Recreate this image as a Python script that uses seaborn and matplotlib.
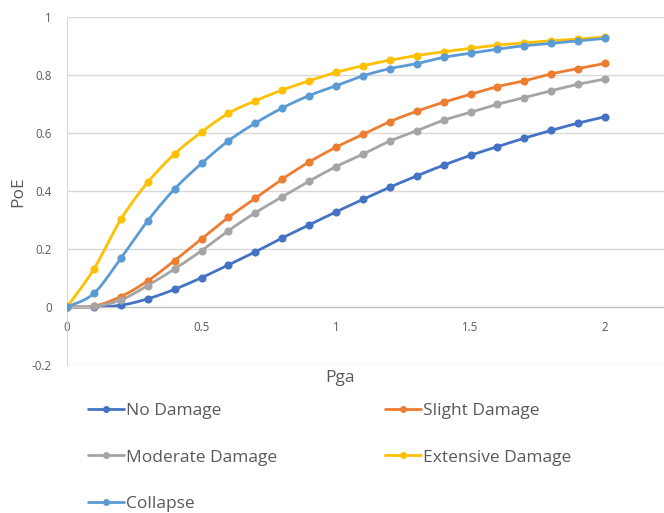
import numpy as np
import pandas as pd
import matplotlib
matplotlib.use("Agg")
import matplotlib.pyplot as plt
import seaborn as sns
from matplotlib.lines import Line2D

pga = [0.0, 0.1, 0.2, 0.3, 0.4, 0.5, 0.6, 0.7, 0.8, 0.9, 1.0,
       1.1, 1.2, 1.3, 1.4, 1.5, 1.6, 1.7, 1.8, 1.9, 2.0]
no_damage = [0.0, 0.0, 0.006, 0.028, 0.061, 0.101, 0.145, 0.190, 0.238, 0.283, 0.328,
             0.371, 0.413, 0.452, 0.489, 0.523, 0.553, 0.582, 0.609, 0.634, 0.656]
slight_damage = [0.0, 0.003, 0.036, 0.090, 0.160, 0.235, 0.309, 0.375, 0.441, 0.500, 0.551,
                 0.595, 0.639, 0.675, 0.706, 0.733, 0.760, 0.780, 0.804, 0.822, 0.840]
moderate_damage = [0.0, 0.002, 0.024, 0.074, 0.131, 0.194, 0.263, 0.325, 0.380, 0.434, 0.484,
                   0.527, 0.572, 0.608, 0.644, 0.671, 0.699, 0.722, 0.746, 0.768, 0.786]
extensive_damage = [0.0, 0.131, 0.302, 0.430, 0.528, 0.603, 0.668, 0.711, 0.748, 0.780, 0.809,
                    0.832, 0.851, 0.867, 0.880, 0.892, 0.903, 0.911, 0.918, 0.924, 0.931]
collapse = [0.0, 0.047, 0.168, 0.297, 0.407, 0.495, 0.573, 0.634, 0.686, 0.729, 0.763,
            0.797, 0.822, 0.839, 0.861, 0.875, 0.889, 0.901, 0.909, 0.918, 0.926]

series_names = ["No Damage", "Slight Damage", "Moderate Damage", "Extensive Damage", "Collapse"]
series_values = [no_damage, slight_damage, moderate_damage, extensive_damage, collapse]
colors = ["#4472C4", "#ED7D31", "#A5A5A5", "#FFC000", "#5B9BD5"]
x_ticks = [0, 0.5, 1, 1.5, 2]
y_ticks = [-0.2, 0, 0.2, 0.4, 0.6, 0.8, 1]


def smooth(x, y, n=20):
    """Catmull-Rom (Excel-style) smoothing through the data points."""
    x = np.asarray(x, float)
    y = np.asarray(y, float)
    pts = np.column_stack([x, y])
    ext = np.vstack([pts[0], pts, pts[-1]])
    out = []
    for i in range(len(pts) - 1):
        p0, p1, p2, p3 = ext[i], ext[i + 1], ext[i + 2], ext[i + 3]
        c1 = p1 + (p2 - p0) / 6.0
        c2 = p2 - (p3 - p1) / 6.0
        t = np.linspace(0, 1, n, endpoint=False)[:, None]
        seg = ((1 - t) ** 3) * p1 + 3 * ((1 - t) ** 2) * t * c1 + 3 * (1 - t) * t ** 2 * c2 + t ** 3 * p2
        out.append(seg)
    out.append(pts[-1][None, :])
    out = np.vstack(out)
    return out[:, 0], out[:, 1]


sns.set_style("white")
plt.rcParams["font.family"] = ["Open Sans", "DejaVu Sans"]

fig = plt.figure(figsize=(6.64, 5.13), dpi=100)
ax = fig.add_axes([67 / 664, 1 - 365 / 513, 1 - 67 / 664, (365 - 17) / 513])

for name, vals, col in zip(series_names, series_values, colors):
    sx, sy = smooth(pga, vals)
    curve = pd.DataFrame({"Pga": sx, "PoE": sy})
    sns.lineplot(data=curve, x="Pga", y="PoE", ax=ax, color=col, lw=2.0,
                 sort=False, estimator=None, legend=False)
    pts = pd.DataFrame({"Pga": pga, "PoE": vals})
    sns.scatterplot(data=pts, x="Pga", y="PoE", ax=ax, color=col, s=34,
                    linewidth=0, legend=False, zorder=3)

ax.set_xlim(0, (664 - 67) / 269)
ax.set_ylim(-0.2, 1.0)
ax.set_xticks(x_ticks)
ax.set_xticklabels([f"{v:g}" for v in x_ticks])
ax.set_yticks(y_ticks)
ax.set_yticklabels([f"{v:g}" for v in y_ticks])
ax.grid(axis="y", color="#D9D9D9", lw=1)
ax.grid(axis="x", visible=False)
ax.set_axisbelow(True)
for s in ["top", "right"]:
    ax.spines[s].set_visible(False)
ax.spines["left"].set_color("#D9D9D9")
ax.spines["bottom"].set_color("#BFBFBF")
ax.spines["bottom"].set_position(("data", 0))
ax.tick_params(axis="both", length=0, labelsize=8.3, labelcolor="#595959")
ax.tick_params(axis="y", pad=11)
ax.tick_params(axis="x", pad=10)
ax.set_xlabel("")
ax.set_ylabel("")

fig.text(18 / 664, 1 - 192 / 513, "PoE", rotation=90, ha="center", va="center",
         fontsize=12.5, color="#595959")
fig.text(340 / 664, 1 - 378 / 513, "Pga", ha="center", va="center",
         fontsize=12.5, color="#595959")

handles = [Line2D([0], [0], color=c, lw=2.0, marker="o", ms=4) for c in colors]
order = [0, 2, 4, 1, 3]
leg = fig.legend([handles[i] for i in order], [series_names[i] for i in order],
                 ncol=2, loc="upper left", bbox_to_anchor=(88 / 664, 1 - 403 / 513),
                 frameon=False, fontsize=12.5, handlelength=2.1, handletextpad=0.1,
                 labelspacing=1.74, columnspacing=6.2, borderpad=0, borderaxespad=0)
for t in leg.get_texts():
    t.set_color("#595959")

fig.savefig("out.png", dpi=100)
